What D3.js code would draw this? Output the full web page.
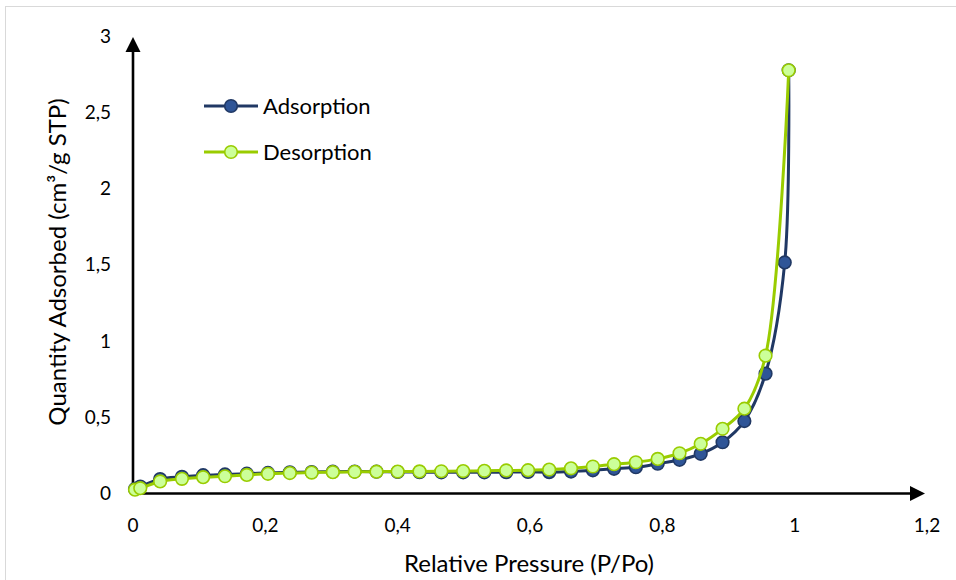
<!DOCTYPE html>
<html>
<head>
<meta charset="utf-8">
<script src="https://cdn.jsdelivr.net/npm/d3@7"></script>
<style>
  body { margin: 0; background: #fff; }
  svg { display: block; font-family: Lato, "Open Sans", sans-serif; }
  .tick-label { font-size: 19px; fill: #000; }
  .title { font-size: 24px; fill: #000; }
  .legend text { font-size: 22px; fill: #000; }
</style>
</head>
<body>
<div class="chart"></div>
<script>
// adsorption branch (P/Po, cm3/g STP)
const adsPressure = [0.003, 0.011, 0.041, 0.074, 0.106, 0.139, 0.172, 0.204, 0.237, 0.270, 0.302, 0.335,
  0.368, 0.400, 0.433, 0.466, 0.499, 0.531, 0.564, 0.597, 0.629, 0.662, 0.695, 0.727, 0.760,
  0.793, 0.826, 0.858, 0.891, 0.924, 0.956, 0.985, 0.991]
const adsQuantity = [0.03, 0.045, 0.095, 0.110, 0.120, 0.125, 0.130, 0.135, 0.139, 0.141, 0.143, 0.144,
  0.143, 0.141, 0.140, 0.139, 0.139, 0.139, 0.140, 0.141, 0.140, 0.144, 0.152, 0.162, 0.172,
  0.195, 0.221, 0.260, 0.336, 0.475, 0.786, 1.515, 2.775]

// desorption branch
const desPressure = [0.003, 0.011, 0.041, 0.074, 0.106, 0.139, 0.172, 0.204, 0.237, 0.270, 0.302, 0.335,
  0.368, 0.400, 0.433, 0.466, 0.499, 0.531, 0.564, 0.597, 0.629, 0.662, 0.695, 0.727, 0.760,
  0.793, 0.826, 0.858, 0.891, 0.924, 0.956, 0.991]
const desQuantity = [0.025, 0.035, 0.079, 0.096, 0.107, 0.113, 0.122, 0.129, 0.134, 0.137, 0.140, 0.142,
  0.143, 0.144, 0.145, 0.146, 0.147, 0.149, 0.151, 0.153, 0.157, 0.165, 0.177, 0.192, 0.205,
  0.227, 0.264, 0.326, 0.424, 0.556, 0.904, 2.775]

const xTicks = [0, 0.2, 0.4, 0.6, 0.8, 1, 1.2]
const yTicks = [0, 0.5, 1, 1.5, 2, 2.5, 3]
const seriesNames = ['Adsorption', 'Desorption']

const width = 956
const height = 580
const margin = {top: 36, right: 29, bottom: 87, left: 133}

const ads = adsPressure.map((p, i) => ({x: p, y: adsQuantity[i]}))
const des = desPressure.map((p, i) => ({x: p, y: desQuantity[i]}))

const styles = [
  {line: '#203864', fill: '#2f5597', stroke: '#203864'},
  {line: '#99cc00', fill: '#ccff99', stroke: '#99cc00'}
]

let x = d3.scaleLinear().domain([0, 1.2]).range([margin.left, width - margin.right])
let y = d3.scaleLinear().domain([0, 3]).range([height - margin.bottom + 0.5, margin.top])

let svg = d3.select('.chart')
  .append('svg')
  .attr('width', width)
  .attr('height', height)

// chart area border
svg.append('rect')
  .attr('x', 5.5).attr('y', 6.5)
  .attr('width', width + 10).attr('height', height + 10)
  .attr('fill', 'none')
  .attr('stroke', '#d9d9d9')
  .attr('stroke-width', 1)

// axes with arrow heads
const axisG = svg.append('g').attr('class', 'axes')

axisG.append('line')
  .attr('x1', x(0)).attr('x2', x(1.2) - 10)
  .attr('y1', y(0)).attr('y2', y(0))
  .attr('stroke', '#000').attr('stroke-width', 2.6)

axisG.append('path')
  .attr('d', `M${x(1.2) - 2},${y(0)} L${x(1.2) - 17},${y(0) - 7.5} L${x(1.2) - 17},${y(0) + 7.5} Z`)
  .attr('fill', '#000')

axisG.append('line')
  .attr('x1', x(0)).attr('x2', x(0))
  .attr('y1', y(0) + 1.3).attr('y2', y(3) + 10)
  .attr('stroke', '#000').attr('stroke-width', 2.6)

axisG.append('path')
  .attr('d', `M${x(0)},${y(3) + 1} L${x(0) - 7.5},${y(3) + 16} L${x(0) + 7.5},${y(3) + 16} Z`)
  .attr('fill', '#000')

const fmt = d => String(d).replace('.', ',')

svg.append('g')
  .selectAll('text')
  .data(xTicks)
  .join('text')
  .attr('class', 'tick-label')
  .attr('x', d => x(d))
  .attr('y', y(0) + 38)
  .attr('text-anchor', 'middle')
  .text(fmt)

svg.append('g')
  .selectAll('text')
  .data(yTicks)
  .join('text')
  .attr('class', 'tick-label')
  .attr('x', x(0) - 22)
  .attr('y', d => y(d) + 6.5)
  .attr('text-anchor', 'end')
  .text(fmt)

// axis titles
svg.append('text')
  .attr('class', 'title')
  .attr('x', 529)
  .attr('y', 572)
  .attr('text-anchor', 'middle')
  .text('Relative Pressure (P/Po)')

svg.append('text')
  .attr('class', 'title')
  .attr('transform', 'translate(66,262) rotate(-90)')
  .attr('text-anchor', 'middle')
  .text('Quantity Adsorbed (cm³/g STP)')

// series
const line = d3.line()
  .x(d => x(d.x))
  .y(d => y(d.y))
  .curve(d3.curveCatmullRom.alpha(0.5))

const series = [ads, des]

series.forEach((data, i) => {
  const st = styles[i]
  const g = svg.append('g').attr('class', 'series-' + i)

  g.append('path')
    .datum(data)
    .attr('d', line)
    .attr('fill', 'none')
    .attr('stroke', st.line)
    .attr('stroke-width', 3)

  g.selectAll('circle')
    .data(data)
    .join('circle')
    .attr('cx', d => x(d.x))
    .attr('cy', d => y(d.y))
    .attr('r', 6.3)
    .attr('fill', st.fill)
    .attr('stroke', st.stroke)
    .attr('stroke-width', 1.6)
})

// legend
const legend = svg.append('g').attr('class', 'legend')

seriesNames.forEach((name, i) => {
  const st = styles[i]
  const ly = 106 + i * 46
  legend.append('line')
    .attr('x1', 204).attr('x2', 258)
    .attr('y1', ly).attr('y2', ly)
    .attr('stroke', st.line).attr('stroke-width', 3)
  legend.append('circle')
    .attr('cx', 231).attr('cy', ly)
    .attr('r', 6.3)
    .attr('fill', st.fill)
    .attr('stroke', st.stroke)
    .attr('stroke-width', 1.6)
  legend.append('text')
    .attr('x', 263)
    .attr('y', ly + 7.5)
    .text(name)
})
</script>
</body>
</html>
